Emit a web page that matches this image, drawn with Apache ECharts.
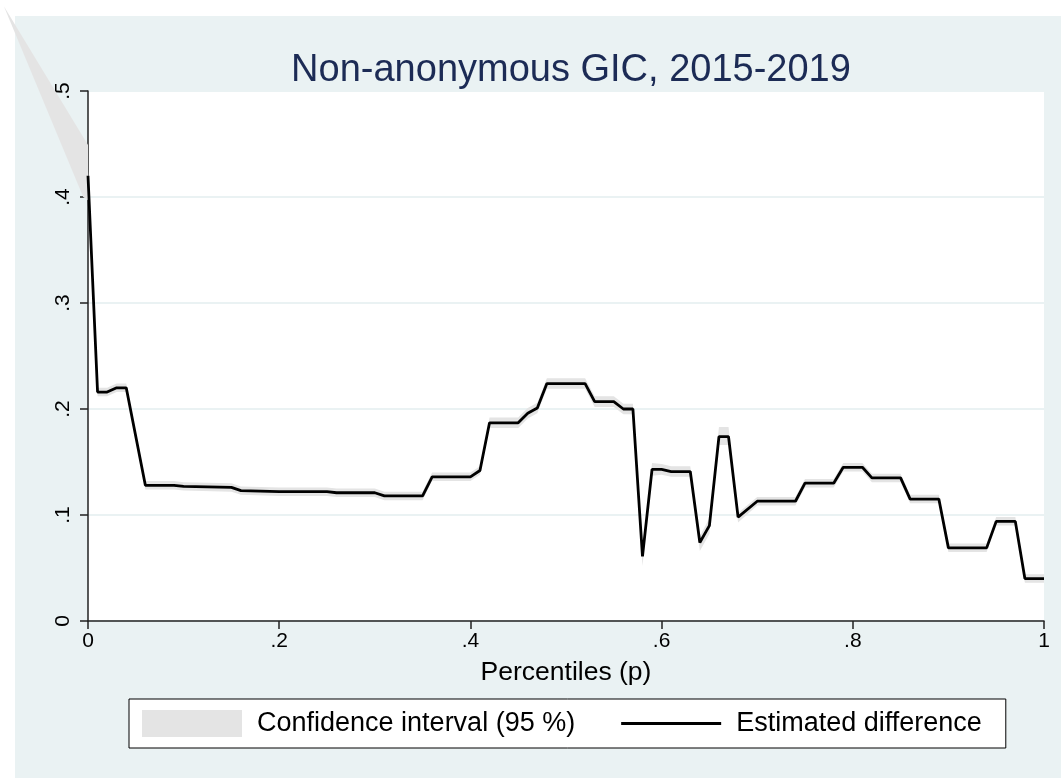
<!DOCTYPE html>
<html>
<head>
<meta charset="utf-8">
<script src="https://cdn.jsdelivr.net/npm/echarts@6/dist/echarts.min.js"></script>
<style>
  html, body { margin: 0; padding: 0; background: #fff; }
  #wrap { position: relative; width: 1061px; height: 778px; }
  #bg { position: absolute; left: 15px; top: 16px; right: 0; bottom: 0; background: #eaf2f3; }
  #chart { position: absolute; left: 0; top: 0; width: 1061px; height: 778px; }
</style>
</head>
<body>
<div id="wrap">
  <div id="bg"></div>
  <div id="chart"></div>
</div>
<script>
// percentiles where the curve changes direction
const diffP = [0, .01, .02, .03, .04, .06, .09, .10, .15, .16, .20, .25, .26, .30, .31, .35, .36, .40, .41, .42,
  .45, .46, .47, .48, .52, .53, .55, .56, .57, .58, .59, .60, .61, .63, .64, .65, .66, .67, .68, .70,
  .74, .75, .78, .79, .81, .82, .85, .86, .89, .90, .94, .95, .97, .98, 1]
const diffV = [.420, .216, .216, .220, .220, .128, .128, .127, .126, .123, .122, .122, .121, .121, .118, .118, .136, .136, .142, .187,
  .187, .196, .201, .224, .224, .207, .207, .200, .200, .061, .143, .143, .141, .141, .074, .090, .174, .174, .098, .113,
  .113, .130, .130, .145, .145, .135, .135, .115, .115, .069, .069, .094, .094, .040, .040]
const ciLow = [.416, .212, .212, .216, .216, .124, .124, .123, .122, .119, .118, .118, .117, .117, .114, .114, .132, .132, .138, .182,
  .182, .191, .196, .219, .219, .202, .202, .195, .195, .052, .137, .138, .136, .136, .066, .082, .166, .166, .093, .109,
  .109, .126, .126, .141, .141, .131, .131, .111, .111, .065, .065, .090, .090, .036, .036]
const ciHigh = [.424, .220, .220, .224, .224, .132, .132, .131, .130, .127, .126, .126, .125, .125, .122, .122, .140, .140, .146, .192,
  .192, .201, .206, .229, .229, .212, .212, .205, .205, .066, .149, .148, .146, .146, .080, .097, .183, .183, .102, .117,
  .117, .134, .134, .149, .149, .139, .139, .119, .119, .073, .073, .098, .098, .044, .044]
// the wedge of the band that spills out to the top-left, outside the plot
const spikeP = [-0.088, 0, 0, -0.005]
const spikeV = [0.580, 0.449, 0.397, 0.400]

const FONT = 'Liberation Sans, Arial, sans-serif'
const CI_COLOR = '#e4e4e4'

const tickFmt = v => {
  const r = +v.toFixed(1)
  if (r === 0 || r === 1) return String(r)
  return r.toFixed(1).replace(/^0/, '')
}

const chart = echarts.init(document.getElementById('chart'))

chart.setOption({
  animation: false,
  title: {
    text: 'Non-anonymous GIC, 2015-2019',
    left: 566,
    textAlign: 'center',
    top: 47,
    textStyle: { color: '#1c2b55', fontSize: 38, fontWeight: 'normal', fontFamily: FONT }
  },
  grid: {
    left: 88, right: 17, top: 91, bottom: 157,
    show: true, backgroundColor: '#fff', borderWidth: 0
  },
  xAxis: {
    type: 'value',
    min: 0, max: 1, interval: 0.2,
    name: 'Percentiles (p)',
    nameLocation: 'middle',
    nameGap: 38,
    nameTextStyle: { fontSize: 26.5, color: '#000', fontFamily: FONT },
    axisLine: { lineStyle: { color: '#222', width: 1.5 } },
    axisTick: { length: 8, lineStyle: { color: '#222', width: 1.5 } },
    axisLabel: { formatter: tickFmt, fontSize: 21, color: '#000', margin: 10, fontFamily: FONT },
    splitLine: { show: false }
  },
  yAxis: {
    type: 'value',
    min: 0, max: 0.5, interval: 0.1,
    axisLine: { show: true, lineStyle: { color: '#222', width: 1.5 } },
    axisTick: { show: true, length: 8, lineStyle: { color: '#222', width: 1.5 } },
    axisLabel: { formatter: tickFmt, fontSize: 21, color: '#000', margin: 14, rotate: 90, fontFamily: FONT },
    splitLine: { lineStyle: { color: '#eaf2f3', width: 2 } }
  },
  legend: {
    left: 129, top: 699,
    itemWidth: 100, itemHeight: 27, itemGap: 46,
    padding: [11, 24, 11, 13],
    backgroundColor: '#fff', borderColor: '#000', borderWidth: 1,
    selectedMode: false,
    symbolKeepAspect: true,
    textStyle: { fontSize: 27, color: '#000', fontFamily: FONT, padding: [0, 0, 0, 10] },
    data: [
      { name: 'Confidence interval (95 %)', icon: 'rect' },
      { name: 'Estimated difference', icon: 'path://M0,0H100V2.8H0Z', itemStyle: { color: '#000' } }
    ]
  },
  series: [
    {
      name: 'Confidence interval (95 %)',
      type: 'custom',
      clip: false,
      silent: true,
      itemStyle: { color: CI_COLOR },
      data: [[0, 0]],
      renderItem: (params, api) => {
        const band = []
        for (let i = 0; i < diffP.length; i++) band.push(api.coord([diffP[i], ciHigh[i]]))
        for (let i = diffP.length - 1; i >= 0; i--) band.push(api.coord([diffP[i], ciLow[i]]))
        const spike = spikeP.map((p, i) => api.coord([p, spikeV[i]]))
        return {
          type: 'group',
          children: [
            { type: 'polygon', shape: { points: band }, style: { fill: CI_COLOR } },
            { type: 'polygon', shape: { points: spike }, style: { fill: CI_COLOR } }
          ]
        }
      }
    },
    {
      name: 'Estimated difference',
      type: 'line',
      symbol: 'none',
      silent: true,
      z: 5,
      lineStyle: { color: '#000', width: 2.8 },
      itemStyle: { color: '#000' },
      data: diffP.map((p, i) => [p, diffV[i]])
    }
  ]
})
</script>
</body>
</html>
